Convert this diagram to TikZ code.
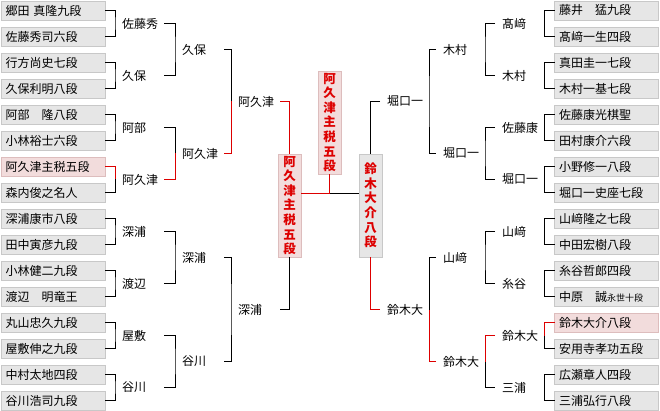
\documentclass[tikz,border=0pt]{standalone}
\usepackage{fontspec}
\usepackage{tikz}
\usetikzlibrary{positioning,calc}
\setmainfont{Noto Sans CJK JP}
\definecolor{cbox}{HTML}{E6E6E6}
\definecolor{cboxD}{HTML}{C8C8C8}
\definecolor{cwin}{HTML}{F2DCDC}
\definecolor{cwinD}{HTML}{DDBDBD}
\definecolor{cred}{HTML}{DD0000}
\tikzset{
  pbox/.style={draw=cboxD, fill=cbox, line width=0.8pt, minimum height=19pt,
               text width=95pt, inner xsep=4.5pt, inner ysep=0pt, outer sep=0pt,
               align=left, anchor=west, font=\fontsize{12}{12}\selectfont},
  pwin/.style={pbox, fill=cwin, draw=cwinD},
  wname/.style={inner sep=0pt, outer xsep=7pt, text width=35pt, align=left,
                anchor=west, font=\fontsize{12}{12}\selectfont},
  fbox/.style={draw=cboxD, fill=cbox, line width=0.8pt, minimum width=23pt,
               minimum height=103pt, inner sep=0pt, outer sep=0pt, align=center,
               text=cred, font=\fontsize{12.5}{14.6}\selectfont\bfseries},
  fwin/.style={fbox, fill=cwin, draw=cwinD},
  wire/.style={line width=1pt, black},
  wwin/.style={line width=1pt, cred},
}
\begin{document}
\begin{tikzpicture}[x=1pt, y=-1pt]
  \fill[white] (0,0) rectangle (660,411);
  \useasboundingbox (0,0) rectangle (660,411);
  % left players
  \node[pbox] (L1) at (1,10.5) {郷田 真隆九段};
  \node[pbox, below=7pt of L1.south west, anchor=north west] (L2) {佐藤秀司六段};
  \node[pbox, below=7pt of L2.south west, anchor=north west] (L3) {行方尚史七段};
  \node[pbox, below=7pt of L3.south west, anchor=north west] (L4) {久保利明八段};
  \node[pbox, below=7pt of L4.south west, anchor=north west] (L5) {阿部　隆八段};
  \node[pbox, below=7pt of L5.south west, anchor=north west] (L6) {小林裕士六段};
  \node[pwin, below=7pt of L6.south west, anchor=north west] (L7) {阿久津主税五段};
  \node[pbox, below=7pt of L7.south west, anchor=north west] (L8) {森内俊之名人};
  \node[pbox, below=7pt of L8.south west, anchor=north west] (L9) {深浦康市八段};
  \node[pbox, below=7pt of L9.south west, anchor=north west] (L10) {田中寅彦九段};
  \node[pbox, below=7pt of L10.south west, anchor=north west] (L11) {小林健二九段};
  \node[pbox, below=7pt of L11.south west, anchor=north west] (L12) {渡辺　明竜王};
  \node[pbox, below=7pt of L12.south west, anchor=north west] (L13) {丸山忠久九段};
  \node[pbox, below=7pt of L13.south west, anchor=north west] (L14) {屋敷伸之九段};
  \node[pbox, below=7pt of L14.south west, anchor=north west] (L15) {中村太地四段};
  \node[pbox, below=7pt of L15.south west, anchor=north west] (L16) {谷川浩司九段};
  % right players
  \node[pbox] (R1) at (554.5,10.5) {藤井　猛九段};
  \node[pbox, below=7pt of R1.south west, anchor=north west] (R2) {髙﨑一生四段};
  \node[pbox, below=7pt of R2.south west, anchor=north west] (R3) {真田圭一七段};
  \node[pbox, below=7pt of R3.south west, anchor=north west] (R4) {木村一基七段};
  \node[pbox, below=7pt of R4.south west, anchor=north west] (R5) {佐藤康光棋聖};
  \node[pbox, below=7pt of R5.south west, anchor=north west] (R6) {田村康介六段};
  \node[pbox, below=7pt of R6.south west, anchor=north west] (R7) {小野修一八段};
  \node[pbox, below=7pt of R7.south west, anchor=north west] (R8) {堀口一史座七段};
  \node[pbox, below=7pt of R8.south west, anchor=north west] (R9) {山﨑隆之七段};
  \node[pbox, below=7pt of R9.south west, anchor=north west] (R10) {中田宏樹八段};
  \node[pbox, below=7pt of R10.south west, anchor=north west] (R11) {糸谷哲郎四段};
  \node[pbox, below=7pt of R11.south west, anchor=north west] (R12) {中原　誠{\fontsize{9}{9}\selectfont 永世十段}};
  \node[pwin, below=7pt of R12.south west, anchor=north west] (R13) {鈴木大介八段};
  \node[pbox, below=7pt of R13.south west, anchor=north west] (R14) {安用寺孝功五段};
  \node[pbox, below=7pt of R14.south west, anchor=north west] (R15) {広瀬章人四段};
  \node[pbox, below=7pt of R15.south west, anchor=north west] (R16) {三浦弘行八段};
  % left winners
  \node[wname] (a1) at (115,23.5) {佐藤秀};
  \node[wname] (a2) at (115,75.5) {久保};
  \node[wname] (a3) at (115,127.5) {阿部};
  \node[wname] (a4) at (115,179.5) {阿久津};
  \node[wname] (a5) at (115,231.5) {深浦};
  \node[wname] (a6) at (115,283.5) {渡辺};
  \node[wname] (a7) at (115,335.5) {屋敷};
  \node[wname] (a8) at (115,387.5) {谷川};
  \node[wname] (b1) at (175,49.5) {久保};
  \node[wname] (b2) at (175,153.5) {阿久津};
  \node[wname] (b3) at (175,257.5) {深浦};
  \node[wname] (b4) at (175,361.5) {谷川};
  \node[wname] (c1) at (231,101.5) {阿久津};
  \node[wname] (c2) at (231,309.5) {深浦};
  % right winners
  \node[wname] (e1) at (495,23.5) {髙﨑};
  \node[wname] (e2) at (495,75.5) {木村};
  \node[wname] (e3) at (495,127.5) {佐藤康};
  \node[wname] (e4) at (495,179.5) {堀口一};
  \node[wname] (e5) at (495,231.5) {山﨑};
  \node[wname] (e6) at (495,283.5) {糸谷};
  \node[wname] (e7) at (495,335.5) {鈴木大};
  \node[wname] (e8) at (495,387.5) {三浦};
  \node[wname] (f1) at (436,49.5) {木村};
  \node[wname] (f2) at (436,153.5) {堀口一};
  \node[wname] (f3) at (436,257.5) {山﨑};
  \node[wname] (f4) at (436,361.5) {鈴木大};
  \node[wname] (g1) at (380,101.5) {堀口一};
  \node[wname] (g2) at (380,309.5) {鈴木大};
  % finalists and champion
  \node[fwin] (LF) at (289.5,205.5) {阿\\久\\津\\主\\税\\五\\段};
  \node[fbox] (RF) at (370.5,205.5) {鈴\\木\\大\\介\\八\\段};
  \node[fwin] (C) at (329.5,122.5) {阿\\久\\津\\主\\税\\五\\段};
  \coordinate (fm) at (329.5,194);
  % left brackets
  \draw[wire] (L1.east) -| (a1.west) |- (L2.east);
  \draw[wire] (L3.east) -| (a2.west) |- (L4.east);
  \draw[wire] (L5.east) -| (a3.west) |- (L6.east);
  \draw[wire] (a4.west) |- (L8.east);
  \draw[wire] (L9.east) -| (a5.west) |- (L10.east);
  \draw[wire] (L11.east) -| (a6.west) |- (L12.east);
  \draw[wire] (L13.east) -| (a7.west) |- (L14.east);
  \draw[wire] (L15.east) -| (a8.west) |- (L16.east);
  \draw[wire] (a1.east) -| (b1.west) |- (a2.east);
  \draw[wire] (a3.east) -| (b2.west);
  \draw[wire] (a5.east) -| (b3.west) |- (a6.east);
  \draw[wire] (a7.east) -| (b4.west) |- (a8.east);
  \draw[wire] (b1.east) -| (c1.west);
  \draw[wire] (b3.east) -| (c2.west) |- (b4.east);
  \draw[wire] (c2.east) -| (LF.south);
  \draw[wwin] (L7.east) -| (a4.west);
  \draw[wwin] (a4.east) -| (b2.west);
  \draw[wwin] (b2.east) -| (c1.west);
  \draw[wwin] (c1.east) -| (LF.north);
  % right brackets
  \draw[wire] (R1.west) -| (e1.east) |- (R2.west);
  \draw[wire] (R3.west) -| (e2.east) |- (R4.west);
  \draw[wire] (R5.west) -| (e3.east) |- (R6.west);
  \draw[wire] (R7.west) -| (e4.east) |- (R8.west);
  \draw[wire] (R9.west) -| (e5.east) |- (R10.west);
  \draw[wire] (R11.west) -| (e6.east) |- (R12.west);
  \draw[wire] (e7.east) |- (R14.west);
  \draw[wire] (R15.west) -| (e8.east) |- (R16.west);
  \draw[wire] (e1.west) -| (f1.east) |- (e2.west);
  \draw[wire] (e3.west) -| (f2.east) |- (e4.west);
  \draw[wire] (e5.west) -| (f3.east) |- (e6.west);
  \draw[wire] (f4.east) |- (e8.west);
  \draw[wire] (f1.west) -| (g1.east) |- (f2.west);
  \draw[wire] (f3.west) -| (g2.east);
  \draw[wire] (g1.west) -| (RF.north);
  \draw[wwin] (R13.west) -| (e7.east);
  \draw[wwin] (e7.west) -| (f4.east);
  \draw[wwin] (f4.west) -| (g2.east);
  \draw[wwin] (g2.west) -| (RF.south);
  % final
  \draw[wire] (fm) -- (RF.west |- fm);
  \draw[wwin] (LF.east |- fm) -- (fm) -- (C.south);
\end{tikzpicture}
\end{document}
